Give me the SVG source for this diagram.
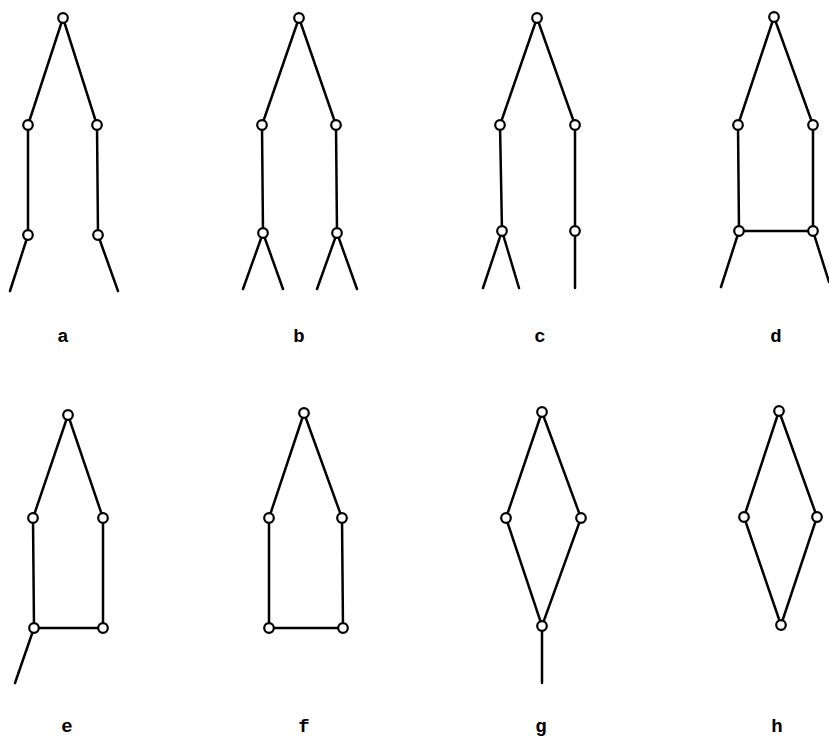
<svg xmlns="http://www.w3.org/2000/svg" width="829" height="739" viewBox="0 0 829 739">
<style>
.e{stroke:#000;stroke-width:2.5;fill:none;stroke-linecap:round}
.n{fill:#fff;stroke:#000;stroke-width:2.2}
.l{font-family:"Liberation Mono","DejaVu Sans Mono",monospace;font-size:19px;font-weight:bold;fill:#000;text-anchor:middle}
</style>
<rect width="829" height="739" fill="#fff"/>
<g id="connectors">
<path class="e" d="M63 18L28 125L28 235L10 291M63 18L97 125L98 235L118 291"/>
<path class="e" d="M299 18L262 125L263 233L243 289M263 233L283 289M299 18L336 125L337 233L317 289M337 233L357 289"/>
<path class="e" d="M537 18L500 125L502 231L483 288M502 231L519 288M537 18L575 125L575 231L575 288"/>
<path class="e" d="M774 17L738 125L739 231L721 287M774 17L813 125L813 231L829 282M739 231L813 231"/>
<path class="e" d="M68 415L33 518L34 628L15 683M68 415L103 518L103 628L34 628"/>
<path class="e" d="M304 413L269 518L269 628L343 628L342 518L304 413"/>
<path class="e" d="M542 412L506 518L542 626L581 518L542 412M542 626L542 683"/>
<path class="e" d="M779 411L744 517L781 625L817 517L779 411"/>
</g>
<g id="nodes-a"><circle class="n" cx="63" cy="18" r="4.8"/><circle class="n" cx="28" cy="125" r="4.8"/><circle class="n" cx="97" cy="125" r="4.8"/><circle class="n" cx="28" cy="235" r="4.8"/><circle class="n" cx="98" cy="235" r="4.8"/></g>
<g id="nodes-b"><circle class="n" cx="299" cy="18" r="4.8"/><circle class="n" cx="262" cy="125" r="4.8"/><circle class="n" cx="336" cy="125" r="4.8"/><circle class="n" cx="263" cy="233" r="4.8"/><circle class="n" cx="337" cy="233" r="4.8"/></g>
<g id="nodes-c"><circle class="n" cx="537" cy="18" r="4.8"/><circle class="n" cx="500" cy="125" r="4.8"/><circle class="n" cx="575" cy="125" r="4.8"/><circle class="n" cx="502" cy="231" r="4.8"/><circle class="n" cx="575" cy="231" r="4.8"/></g>
<g id="nodes-d"><circle class="n" cx="774" cy="17" r="4.8"/><circle class="n" cx="738" cy="125" r="4.8"/><circle class="n" cx="813" cy="125" r="4.8"/><circle class="n" cx="739" cy="231" r="4.8"/><circle class="n" cx="813" cy="231" r="4.8"/></g>
<g id="nodes-e"><circle class="n" cx="68" cy="415" r="4.8"/><circle class="n" cx="33" cy="518" r="4.8"/><circle class="n" cx="103" cy="518" r="4.8"/><circle class="n" cx="34" cy="628" r="4.8"/><circle class="n" cx="103" cy="628" r="4.8"/></g>
<g id="nodes-f"><circle class="n" cx="304" cy="413" r="4.8"/><circle class="n" cx="269" cy="518" r="4.8"/><circle class="n" cx="342" cy="518" r="4.8"/><circle class="n" cx="269" cy="628" r="4.8"/><circle class="n" cx="343" cy="628" r="4.8"/></g>
<g id="nodes-g"><circle class="n" cx="542" cy="412" r="4.8"/><circle class="n" cx="506" cy="518" r="4.8"/><circle class="n" cx="581" cy="518" r="4.8"/><circle class="n" cx="542" cy="626" r="4.8"/></g>
<g id="nodes-h"><circle class="n" cx="779" cy="411" r="4.8"/><circle class="n" cx="744" cy="517" r="4.8"/><circle class="n" cx="817" cy="517" r="4.8"/><circle class="n" cx="781" cy="625" r="4.8"/></g>
<g id="labels">
<text class="l" x="63" y="342">a</text>
<text class="l" x="299" y="342">b</text>
<text class="l" x="540" y="342">c</text>
<text class="l" x="776" y="342">d</text>
<text class="l" x="67" y="732">e</text>
<text class="l" x="304" y="732">f</text>
<text class="l" x="541" y="732">g</text>
<text class="l" x="777" y="732">h</text>
</g>
</svg>
